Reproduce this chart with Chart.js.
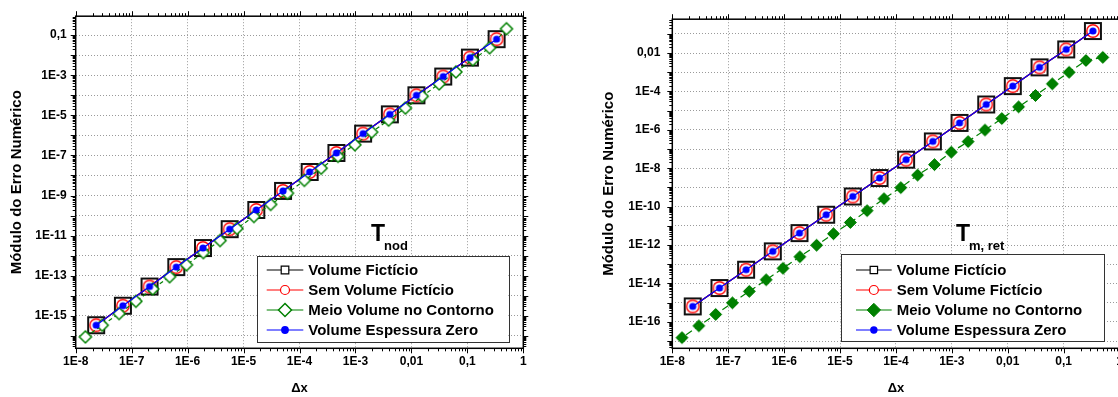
<!DOCTYPE html>
<html>
<head>
<meta charset="utf-8">
<title>Módulo do Erro Numérico vs Δx</title>
<script src="https://cdn.jsdelivr.net/npm/chart.js@4.4.1/dist/chart.umd.min.js"></script>
<style>
  html, body { margin: 0; padding: 0; background: #fff; width: 1118px; height: 397px; overflow: hidden; }
  .panel { position: absolute; top: 0; height: 397px; overflow: hidden; }
  #panelNod { left: 0; width: 560px; }
  #panelRet { left: 560px; width: 558px; }
  canvas { display: block; }
</style>
</head>
<body>
<div class="panel" id="panelNod"><canvas id="chartNod" width="560" height="397"></canvas></div>
<div class="panel" id="panelRet"><canvas id="chartRet" width="580" height="397"></canvas></div>

<script>
// ── Data ────────────────────────────────────────────────────────────────

// Δx for the refinement by 3 (square / circle / dot series) and by 2 (diamonds)
const dxMain = [3.33e-1, 1.11e-1, 3.70e-2, 1.23e-2, 4.12e-3, 1.37e-3, 4.57e-4, 1.52e-4,
                5.08e-5, 1.69e-5, 5.65e-6, 1.88e-6, 6.27e-7, 2.09e-7, 6.97e-8, 2.32e-8];
const dxHalf = [5.0e-1, 2.5e-1, 1.25e-1, 6.25e-2, 3.13e-2, 1.56e-2, 7.81e-3, 3.91e-3,
                1.95e-3, 9.77e-4, 4.88e-4, 2.44e-4, 1.22e-4, 6.10e-5, 3.05e-5, 1.53e-5,
                7.63e-6, 3.81e-6, 1.91e-6, 9.54e-7, 4.77e-7, 2.38e-7, 1.19e-7, 5.96e-8,
                2.98e-8, 1.49e-8];

// T_nod — the three "main" schemes fall on the same points
const nodMain = [6.3e-2, 7.6e-3, 8.6e-4, 1.0e-4, 1.12e-5, 1.23e-6, 1.33e-7, 1.5e-8,
                 1.7e-9, 1.9e-10, 2.1e-11, 2.4e-12, 2.7e-13, 2.9e-14, 3.2e-15, 3.4e-16];
const nodHalf = [2.07e-1, 2.34e-2, 5.9e-3, 1.47e-3, 3.7e-4, 8.9e-5, 2.3e-5, 5.8e-6,
                 1.46e-6, 3.4e-7, 9.1e-8, 2.3e-8, 5.7e-9, 1.3e-9, 3.6e-10, 9.0e-11,
                 2.3e-11, 5.7e-12, 1.42e-12, 3.5e-13, 8.9e-14, 2.2e-14, 5.3e-15, 1.3e-15,
                 3.4e-16, 8.9e-17];

// T_m,ret
const retMain = [1.40e-1, 1.55e-2, 1.8e-3, 1.9e-4, 2.1e-5, 2.3e-6, 2.5e-7, 2.8e-8,
                 3.1e-9, 3.4e-10, 3.8e-11, 4.2e-12, 4.7e-13, 5.2e-14, 5.8e-15, 6.4e-16];
const retHalf = [6.0e-3, 4.1e-3, 1.0e-3, 2.5e-4, 6.2e-5, 1.58e-5, 3.9e-6, 9.8e-7,
                 2.45e-7, 6.9e-8, 1.55e-8, 4.4e-9, 9.8e-10, 2.6e-10, 6.2e-11, 1.5e-11,
                 3.9e-12, 9.8e-13, 2.45e-13, 6.2e-14, 1.55e-14, 3.9e-15, 9.8e-16, 2.45e-16,
                 6.2e-17, 1.5e-17];

const seriesNames = ['Volume Fictício', 'Sem Volume Fictício', 'Meio Volume no Contorno', 'Volume Espessura Zero'];

// Tick values / labels
const xTickValues = [1e-8, 1e-7, 1e-6, 1e-5, 1e-4, 1e-3, 1e-2, 1e-1, 1];
const xTickLabels = ['1E-8', '1E-7', '1E-6', '1E-5', '1E-4', '1E-3', '0,01', '0,1', '1'];

const nodYTicks  = [1e-16, 1e-15, 1e-14, 1e-13, 1e-12, 1e-11, 1e-10, 1e-9,
                    1e-8, 1e-7, 1e-6, 1e-5, 1e-4, 1e-3, 1e-2, 1e-1];
const nodYLabels = ['', '1E-15', '', '1E-13', '', '1E-11', '', '1E-9',
                    '', '1E-7', '', '1E-5', '', '1E-3', '', '0,1'];

const retYTicks  = [1e-17, 1e-16, 1e-15, 1e-14, 1e-13, 1e-12, 1e-11, 1e-10, 1e-9,
                    1e-8, 1e-7, 1e-6, 1e-5, 1e-4, 1e-3, 1e-2, 1e-1];
const retYLabels = ['', '1E-16', '', '1E-14', '', '1E-12', '', '1E-10', '',
                    '1E-8', '', '1E-6', '', '1E-4', '', '0,01', ''];

// ── Drawing helpers ─────────────────────────────────────────────────────

const FONT = 'Arial, "Liberation Sans", sans-serif';
Chart.defaults.font.family = FONT;

const GREEN = '#008000';

function traceShape(g, shape, x, y, r) {
  g.beginPath();
  if (shape === 'square') {
    g.rect(x - r, y - r, 2 * r, 2 * r);
  } else if (shape === 'diamond') {
    g.moveTo(x, y - r); g.lineTo(x + r, y); g.lineTo(x, y + r); g.lineTo(x - r, y);
    g.closePath();
  } else {
    g.arc(x, y, r, 0, Math.PI * 2);
  }
}

function paintShape(g, m, x, y) {
  traceShape(g, m.shape, x, y, m.r);
  if (m.fill) { g.fillStyle = m.fill; g.fill(); }
  if (m.lw) { g.lineWidth = m.lw; g.strokeStyle = m.stroke; g.stroke(); }
}

// Pre-rendered point images so markers look identical everywhere
function markerImage(m) {
  const size = Math.ceil(2 * m.r + (m.lw || 0) + 2);
  const c = document.createElement('canvas');
  c.width = size; c.height = size;
  paintShape(c.getContext('2d'), m, size / 2, size / 2);
  return c;
}

function logSteps(min, max) {
  const out = [];
  for (let e = Math.floor(Math.log10(min)); e <= Math.ceil(Math.log10(max)); e++) {
    for (let k = 1; k < 10; k++) {
      const v = k * Math.pow(10, e);
      if (v >= min * 0.9999 && v <= max * 1.0001) out.push({ v, major: k === 1 });
    }
  }
  return out;
}

// Frame, outward ticks, inset legend and the "T" label
const decorPlugin = {
  id: 'decor',
  afterDraw(chart) {
    const o = chart.options.plugins.decor;
    const { ctx, chartArea: a } = chart;
    const sx = chart.scales.x, sy = chart.scales.y;
    ctx.save();

    ctx.strokeStyle = '#000';
    ctx.lineWidth = 1;
    ctx.beginPath();
    logSteps(sx.min, sx.max).forEach(t => {
      const p = Math.round(sx.getPixelForValue(t.v)) + 0.5;
      const len = t.major ? 5 : 3;
      ctx.moveTo(p, a.bottom); ctx.lineTo(p, a.bottom + len);
      ctx.moveTo(p, a.top);    ctx.lineTo(p, a.top - len);
    });
    logSteps(sy.min, sy.max).forEach(t => {
      const p = Math.round(sy.getPixelForValue(t.v)) + 0.5;
      const len = t.major ? 5 : 3;
      ctx.moveTo(a.left, p);  ctx.lineTo(a.left - len, p);
      ctx.moveTo(a.right, p); ctx.lineTo(a.right + len, p);
    });
    ctx.stroke();

    ctx.lineWidth = 1.5;
    ctx.strokeRect(a.left, a.top, a.right - a.left, a.bottom - a.top);

    // legend
    const L = o.legend;
    const [bx0, by0, bx1, by1] = L.box;
    ctx.fillStyle = '#fff';
    ctx.fillRect(bx0, by0, bx1 - bx0, by1 - by0);
    ctx.lineWidth = 1;
    ctx.strokeStyle = '#333';
    ctx.strokeRect(Math.round(bx0) + 0.5, Math.round(by0) + 0.5, Math.round(bx1 - bx0), Math.round(by1 - by0));

    ctx.font = 'bold 15px ' + FONT;
    ctx.textBaseline = 'middle';
    ctx.textAlign = 'left';
    seriesNames.forEach((name, i) => {
      const y = L.rowY[i];
      const ds = chart.data.datasets[i];
      ctx.beginPath();
      ctx.moveTo(L.lineX[0], y); ctx.lineTo(L.lineX[1], y);
      ctx.lineWidth = 1.2;
      ctx.strokeStyle = ds.borderColor;
      ctx.stroke();
      paintShape(ctx, L.marks[i], (L.lineX[0] + L.lineX[1]) / 2, y);
      ctx.fillStyle = '#000';
      ctx.fillText(name, L.textX, y + 1);
    });

    // T with subscript
    const T = o.label;
    ctx.textBaseline = 'alphabetic';
    ctx.fillStyle = '#000';
    ctx.font = 'bold 23px ' + FONT;
    ctx.fillText('T', T.x, T.y);
    ctx.font = 'bold 13px ' + FONT;
    ctx.fillText(T.sub, T.subX, T.subY);

    ctx.restore();
  }
};

function series(label, xs, ys, color, mark, dash, order) {
  return {
    label,
    data: xs.map((x, i) => ({ x, y: ys[i] })),
    showLine: true,
    borderColor: color,
    borderWidth: 1.2,
    borderDash: dash,
    pointStyle: markerImage(mark),
    pointRadius: mark.r,
    pointHoverRadius: mark.r,
    order,
  };
}

function buildPanel(id, p) {
  const tickFont = { size: 12, weight: 'bold' };
  return new Chart(document.getElementById(id), {
    type: 'scatter',
    data: {
      datasets: [
        series(seriesNames[0], dxMain, p.main, '#000000', { shape: 'square', r: 8, stroke: '#111', lw: 2 }, [], 4),
        series(seriesNames[1], dxMain, p.main, '#ff0000', { shape: 'circle', r: 6.2, stroke: '#ff0000', fill: '#fff', lw: 1.4 }, [], 3),
        series(seriesNames[2], dxHalf, p.half, GREEN, p.halfMark, p.halfDash, 2),
        series(seriesNames[3], dxMain, p.main, '#0000ff', { shape: 'circle', r: 3.6, fill: '#0000ff' }, [], 1),
      ],
    },
    options: {
      responsive: false,
      devicePixelRatio: 1,
      animation: false,
      events: [],
      layout: { padding: { top: 15, right: p.padRight, left: 0, bottom: 0 } },
      scales: {
        x: {
          type: 'logarithmic',
          min: 1e-8, max: 1, bounds: 'data',
          afterBuildTicks: s => { s.ticks = xTickValues.map(v => ({ value: v })); },
          afterFit: s => { s.height = 48.7; },
          ticks: { autoSkip: false, maxRotation: 0, padding: 6, color: '#000', font: tickFont,
                   callback: (v, i) => xTickLabels[i] },
          grid: { color: '#9a9a9a', lineWidth: 1, drawTicks: false },
          border: { display: false, dash: [1, 2] },
          title: { display: true, text: 'Δx', color: '#000',
                   font: { size: 13, weight: 'bold' }, padding: { top: 0, bottom: 1 } },
        },
        y: {
          type: 'logarithmic',
          min: p.yMin, max: p.yMax, bounds: 'data',
          afterBuildTicks: s => { s.ticks = p.yTicks.map(v => ({ value: v })); },
          afterFit: s => { s.width = p.yWidth; },
          ticks: { autoSkip: false, padding: p.yLabelPad, color: '#000', font: tickFont,
                   callback: (v, i) => p.yLabels[i] },
          grid: { color: '#9a9a9a', lineWidth: 1, drawTicks: false },
          border: { display: false, dash: [1, 2] },
          title: { display: true, text: 'Módulo do Erro Numérico', color: '#000',
                   font: { size: 15, weight: 'bold' }, padding: { top: p.yTitlePad, bottom: 0 } },
        },
      },
      plugins: {
        legend: { display: false },
        tooltip: { enabled: false },
        decor: { legend: p.legend, label: p.label },
      },
    },
    plugins: [decorPlugin],
  });
}

// ── Panels ──────────────────────────────────────────────────────────────

buildPanel('chartNod', {
  main: nodMain, half: nodHalf,
  halfMark: { shape: 'diamond', r: 6, stroke: GREEN, fill: '#fff', lw: 1.5 },
  halfDash: [4, 3],
  yMin: 2.4e-17, yMax: 0.88, yTicks: nodYTicks, yLabels: nodYLabels,
  yWidth: 75.7, yLabelPad: 9, yTitlePad: 7.5, padRight: 36.7,
  legend: {
    box: [256.7, 256, 508.3, 341.7], lineX: [266.7, 303.3], textX: 308.3,
    rowY: [270, 290, 310, 330],
    marks: [
      { shape: 'square', r: 3.8, stroke: '#000', fill: '#fff', lw: 1.2 },
      { shape: 'circle', r: 4.5, stroke: '#ff0000', fill: '#fff', lw: 1.2 },
      { shape: 'diamond', r: 6.5, stroke: GREEN, fill: '#fff', lw: 1.5 },
      { shape: 'circle', r: 3.9, fill: '#0000ff' },
    ],
  },
  label: { x: 371, y: 241, sub: 'nod', subX: 384, subY: 250 },
});

buildPanel('chartRet', {
  main: retMain, half: retHalf,
  halfMark: { shape: 'diamond', r: 6, stroke: GREEN, fill: GREEN, lw: 1 },
  halfDash: [7, 4],
  yMin: 4.2e-18, yMax: 0.58, yTicks: retYTicks, yLabels: retYLabels,
  yWidth: 112.3, yLabelPad: 12, yTitlePad: 40, padRight: 20.4,
  legend: {
    box: [280.7, 254.3, 544, 341.7], lineX: [296, 331.7], textX: 336.7,
    rowY: [270, 290, 310, 330],
    marks: [
      { shape: 'square', r: 3.7, stroke: '#000', fill: '#fff', lw: 1.2 },
      { shape: 'circle', r: 4.5, stroke: '#ff0000', fill: '#fff', lw: 1.2 },
      { shape: 'diamond', r: 6.7, stroke: GREEN, fill: GREEN, lw: 1 },
      { shape: 'circle', r: 3.7, fill: '#0000ff' },
    ],
  },
  label: { x: 396, y: 241, sub: 'm, ret', subX: 409, subY: 250 },
});
</script>
</body>
</html>
